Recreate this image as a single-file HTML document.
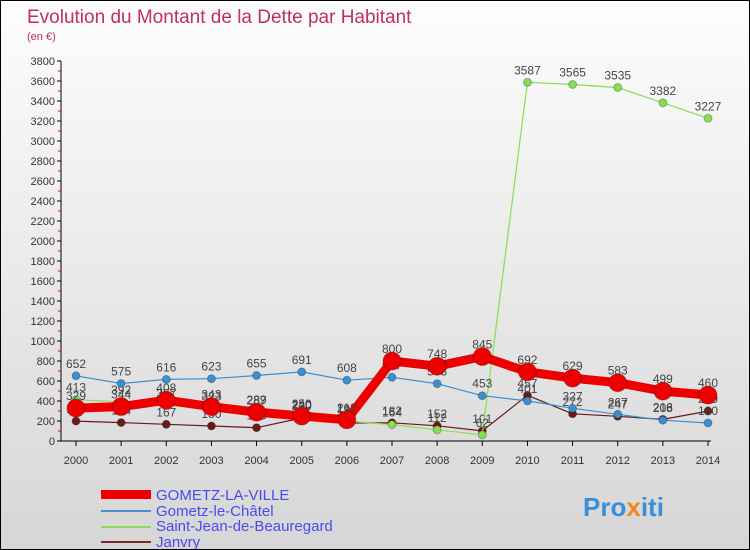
<!DOCTYPE html>
<html><head><meta charset="utf-8"><style>
body{margin:0}
#wrap{width:748px;height:548px;border:1px solid #000;background:linear-gradient(#fdfdfd,#d6d6d6);position:relative;overflow:hidden;font-family:"Liberation Sans",sans-serif}
</style></head><body>
<div id="wrap">
<svg id="svg" width="748" height="548">
<text x="26" y="22" font-size="19" fill="#c0305a">Evolution du Montant de la Dette par Habitant</text>
<text x="26" y="39" font-size="11" fill="#c0305a">(en €)</text>
<g id="axes"></g><g id="series"></g>
<g>
<rect x="100" y="489" width="50" height="9" fill="#ee0000"/>
<text x="155" y="499" font-size="15" fill="#4a4af0">GOMETZ-LA-VILLE</text>
<line x1="100" y1="510" x2="150" y2="510" stroke="#4a90d0" stroke-width="2"/>
<text x="155" y="515" font-size="15" fill="#4a4af0">Gometz-le-Châtel</text>
<line x1="100" y1="526" x2="150" y2="526" stroke="#88dd55" stroke-width="2"/>
<text x="155" y="530" font-size="15" fill="#4a4af0">Saint-Jean-de-Beauregard</text>
<line x1="100" y1="541" x2="150" y2="541" stroke="#7a2a2a" stroke-width="2"/>
<text x="155" y="546" font-size="15" fill="#4a4af0">Janvry</text>
</g>
<text x="582" y="515" font-size="26" font-weight="bold" fill="#3a8fd8">Pro<tspan fill="#f08a20">x</tspan>iti</text>
</svg></div>
<script>
const years=[2000,2001,2002,2003,2004,2005,2006,2007,2008,2009,2010,2011,2012,2013,2014];
const yTicks=[0,200,400,600,800,1000,1200,1400,1600,1800,2000,2200,2400,2600,2800,3000,3200,3400,3600,3800];
const gometzVille=[329,344,408,343,289,250,212,800,748,845,692,629,583,499,460];
const gometzChatel=[652,575,616,623,655,691,608,637,573,453,401,327,267,208,180];
const saintJean=[413,392,357,323,287,240,198,164,112,62,3587,3565,3535,3382,3227];
const janvry=[199,184,167,150,133,230,180,182,152,101,457,272,247,216,299];
const NS="http://www.w3.org/2000/svg";
const x=i=>75+i*(632/14);
const y=v=>440-v*0.1;
function mk(t,a,p){const e=document.createElementNS(NS,t);for(const k in a)e.setAttribute(k,a[k]);p.appendChild(e);return e;}
const ax=document.getElementById('axes');
let l=mk('line',{x1:60,y1:60,x2:60,y2:440,stroke:'#000'},ax);


l=mk('line',{x1:60,y1:440,x2:710,y2:440,stroke:'#000'},ax);


yTicks.forEach((v,k)=>{
 mk('line',{x1:56,y1:y(v),x2:60,y2:y(v),stroke:'#000'},ax);
 if(k<yTicks.length-1) mk('line',{x1:57,y1:y(v+100),x2:60,y2:y(v+100),stroke:'#e00'},ax);
 const t=mk('text',{x:54,y:y(v)+4,'font-size':11,fill:'#333','text-anchor':'end'},ax);
 t.textContent=v;
 
 
});
years.forEach((yr,i)=>{
 mk('line',{x1:x(i),y1:440,x2:x(i),y2:445,stroke:'#000'},ax);
 const t=mk('text',{x:x(i),y:463,'font-size':11,fill:'#333','text-anchor':'middle'},ax);
 t.textContent=yr;
 
 
});
const sg=document.getElementById('series');
function draw(data,color,w,r,name){
 const g=mk('g',{},sg);
 
 
 mk('polyline',{points:data.map((v,i)=>x(i)+','+y(v)).join(' '),fill:'none',stroke:color,'stroke-width':w,'stroke-linejoin':'round'},g);
 data.forEach((v,i)=>{
  const c=mk('circle',{cx:x(i),cy:y(v),r:r,fill:color,stroke:'rgba(0,0,0,0.25)'},g);
  
  
  const t=mk('text',{x:x(i),y:y(v)-8,'font-size':12,fill:'#444','text-anchor':'middle'},g);
  t.textContent=v;
  
  
 });
}
draw(janvry,'#6b1a1a',1.2,4,'series-janvry');
draw(saintJean,'#88dd55',1.2,4,'series-saint-jean');
draw(gometzChatel,'#3a8fd0',1.2,4,'series-gometz-le-chatel');
draw(gometzVille,'#ee0000',9,9,'series-gometz-la-ville');
</script>
</body></html>
